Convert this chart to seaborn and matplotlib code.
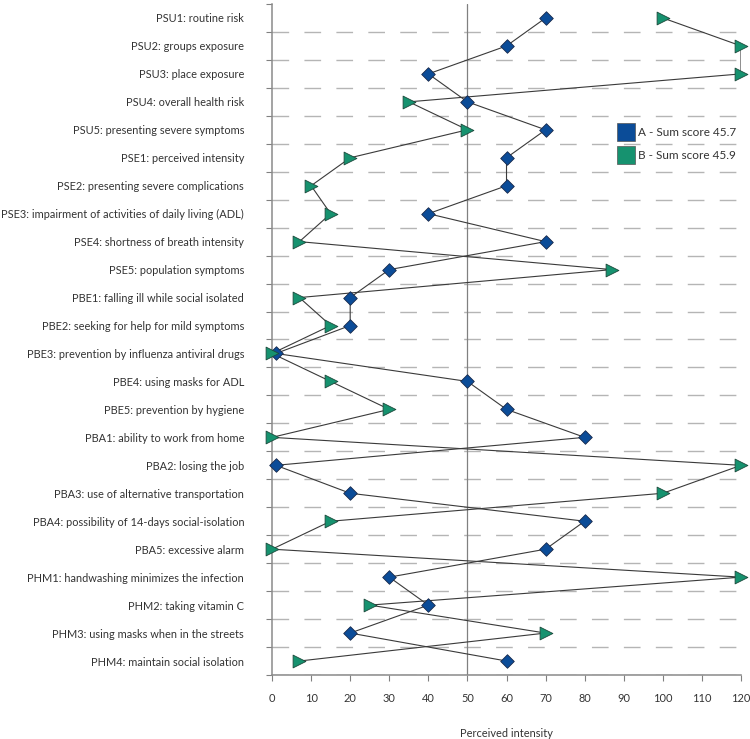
import matplotlib
matplotlib.use("Agg")
import matplotlib.pyplot as plt
from matplotlib.lines import Line2D
from matplotlib.ticker import FixedLocator
import numpy as np
import pandas as pd
import seaborn as sns

items = [
    "PSU1: routine risk",
    "PSU2: groups exposure",
    "PSU3: place exposure",
    "PSU4: overall health risk",
    "PSU5: presenting severe symptoms",
    "PSE1: perceived intensity",
    "PSE2: presenting severe complications",
    "PSE3: impairment of activities of daily living (ADL)",
    "PSE4: shortness of breath intensity",
    "PSE5: population symptoms",
    "PBE1: falling ill while social isolated",
    "PBE2: seeking for help for mild symptoms",
    "PBE3: prevention by influenza antiviral drugs",
    "PBE4: using masks for ADL",
    "PBE5: prevention by hygiene",
    "PBA1: ability to work from home",
    "PBA2: losing the job",
    "PBA3: use of alternative transportation",
    "PBA4: possibility of 14-days social-isolation",
    "PBA5: excessive alarm",
    "PHM1: handwashing minimizes the infection",
    "PHM2: taking vitamin C",
    "PHM3: using masks when in the streets",
    "PHM4: maintain social isolation",
]
score_a = [70, 60, 40, 50, 70, 60, 60, 40, 70, 30, 20, 20,
           1, 50, 60, 80, 1, 20, 80, 70, 30, 40, 20, 60]
score_b = [100, 120, 120, 35, 50, 20, 10, 15, 7, 87, 7, 15,
           0, 15, 30, 0, 120, 100, 15, 0, 120, 25, 70, 7]
legend_labels = ["A - Sum score 45.7", "B - Sum score 45.9"]
x_ticks = list(range(0, 121, 10))

sns.set_style("white")
plt.rcParams["font.family"] = ["Lato", "DejaVu Sans"]
text_col = "#333333"
blue = "#0b4c98"
green = "#16926f"
fs = 7.9

df = pd.DataFrame({"pos": np.arange(len(items)), "A": score_a, "B": score_b})

fig = plt.figure(figsize=(7.5, 7.39), dpi=100)
ax = fig.add_axes([0.3627, 0.0866, 0.6253, 0.908])

# dashed separators between rows
for k in range(len(items)):
    ax.axhline(k + 0.5, color="#b5b5b5", lw=1.0, dashes=(12, 11), zorder=0)
ax.axvline(50, color="#808080", lw=0.9, zorder=1)

sns.lineplot(data=df, x="A", y="pos", sort=False, estimator=None, orient="y",
             color="#3a3a3a", lw=0.8, ax=ax, zorder=2)
sns.lineplot(data=df, x="B", y="pos", sort=False, estimator=None, orient="y",
             color="#3a3a3a", lw=0.8, ax=ax, zorder=2)
sns.scatterplot(data=df, x="A", y="pos", marker="D", s=48, color=blue,
                edgecolor="#1a2a4a", linewidth=0.6, ax=ax, zorder=3)
sns.scatterplot(data=df, x="B", y="pos", marker=">", s=85, color=green,
                edgecolor="#1d4a3c", linewidth=0.6, ax=ax, zorder=3)
for coll in ax.collections:
    coll.set_clip_on(False)

ax.set_xlim(0, 120)
ax.set_ylim(len(items) - 0.5, -0.5)
ax.set_xticks(x_ticks)
ax.set_yticks(df["pos"])
ax.set_yticklabels(items)
ax.yaxis.set_minor_locator(FixedLocator(np.arange(-0.5, len(items), 1.0)))
ax.tick_params(axis="y", which="major", length=0, pad=20, labelsize=fs, labelcolor=text_col)
ax.tick_params(axis="y", which="minor", left=True, length=4, width=0.8, color="#808080")
ax.tick_params(axis="x", which="major", bottom=True, length=4, width=0.8, color="#808080",
               pad=9, labelsize=fs, labelcolor=text_col)
ax.set_xlabel("Perceived intensity", fontsize=fs, color=text_col, labelpad=17)
ax.set_ylabel("")

for side in ["top", "right"]:
    ax.spines[side].set_visible(False)
for side in ["left", "bottom"]:
    ax.spines[side].set_color("#8a8a8a")
    ax.spines[side].set_linewidth(1.1)

handles = [
    Line2D([], [], marker="s", ls="", markersize=12.5, markerfacecolor=blue,
           markeredgecolor="#555555", markeredgewidth=0.5),
    Line2D([], [], marker="s", ls="", markersize=12.5, markerfacecolor=green,
           markeredgecolor="#555555", markeredgewidth=0.5),
]
leg = ax.legend(handles, legend_labels, loc="upper left", bbox_to_anchor=(0.72, 0.833),
                frameon=False, fontsize=8.5, handlelength=1.0, handletextpad=0.5,
                labelspacing=1.05)
for t in leg.get_texts():
    t.set_color(text_col)

fig.savefig("out.png", dpi=100)
